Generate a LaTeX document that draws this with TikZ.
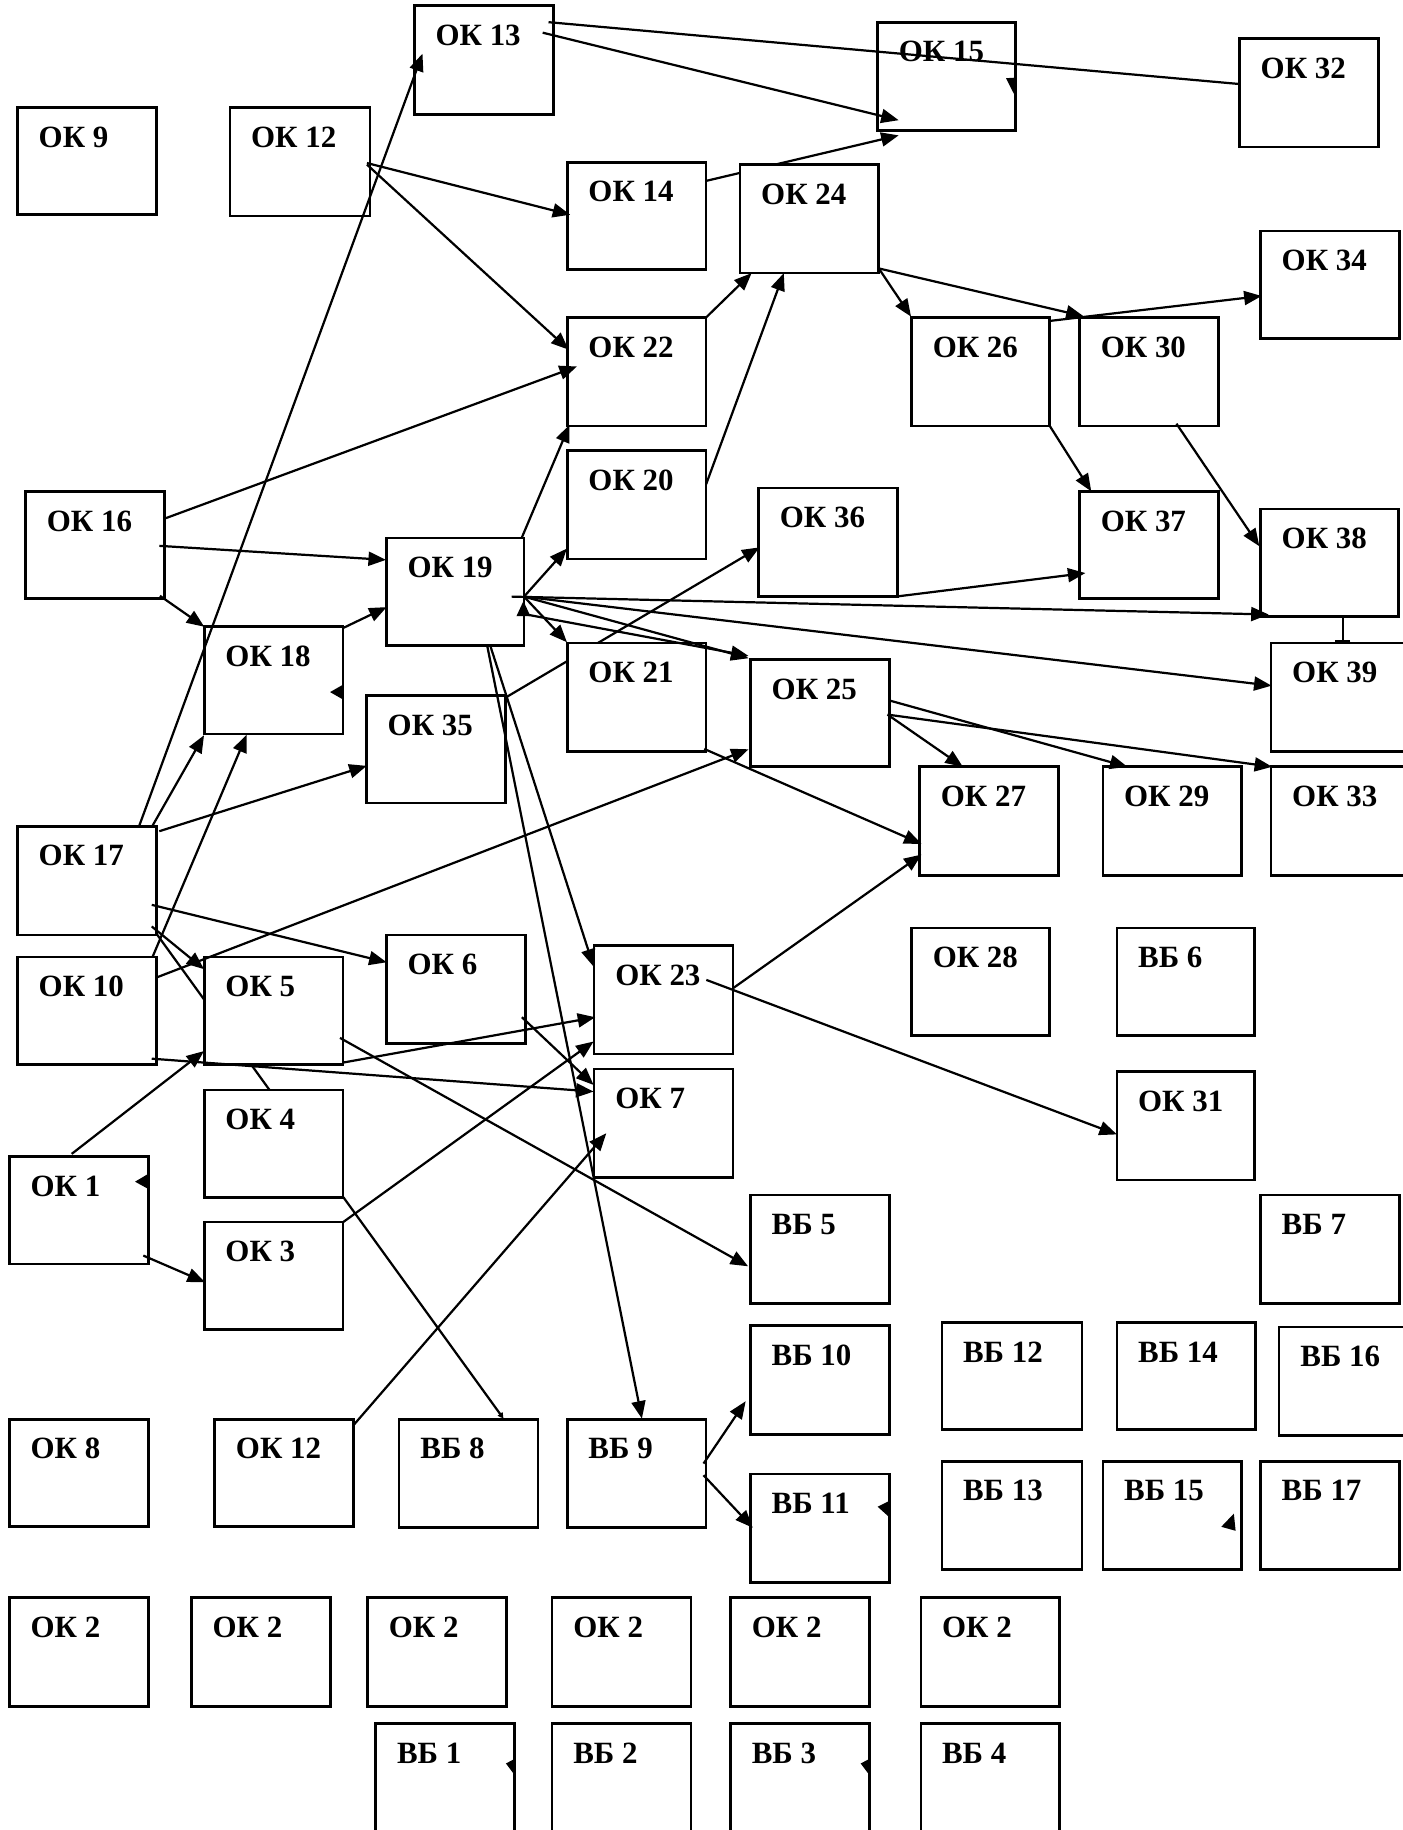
\documentclass[tikz,border=0pt]{standalone}
\usepackage{fontspec}
\usepackage{xfp}
\setmainfont{Liberation Serif}
\usetikzlibrary{arrows.meta}
% point given in picture coordinates, expressed relative to a named box
\newcommand\rel[3]{([shift={(\fpeval{#2-\csname bX#1\endcsname},\fpeval{#3-\csname bY#1\endcsname})}]#1.north west)}
\newcommand\bx[6]{%
  \expandafter\xdef\csname bX#1\endcsname{#2}%
  \expandafter\xdef\csname bY#1\endcsname{#3}%
  \node[box, minimum width={(#4-#2)*1pt}, minimum height={(#5-#3)*1pt}] (#1) at (#2,#3) {};%
  \node[lbl] (#1-l) at ([shift={(18,34)}]#1.north west) {#6};}
\newcommand\conn[7][arr]{%
  \edef\tmpconn{\noexpand\draw[cn,#1] \rel{#2}{#3}{#4} -- \rel{#5}{#6}{#7};}\tmpconn}
\newcommand\stray[7]{%
  \edef\tmpstray{\noexpand\fill \rel{#1}{#2}{#3} -- \rel{#1}{#4}{#5} -- \rel{#1}{#6}{#7} -- cycle;}\tmpstray}
\begin{document}
\begin{tikzpicture}[x=1pt,y=-1pt,
  box/.style={draw, fill=white, line width=2.3pt, rectangle, anchor=north west, inner sep=0pt, outer sep=0pt},
  lbl/.style={anchor=base west, inner sep=0pt, font=\bfseries\fontsize{26.5}{30}\selectfont},
  cn/.style={line width=1.9pt},
  arr/.style={-{Triangle[length=15pt,width=12pt]}},
  bartip/.style={-{Bar[width=13pt]}}]
\useasboundingbox (0,0) rectangle (1202,1568);
\clip (0,0) rectangle (1202,1568);
\fill[white] (0,0) rectangle (1202,1568);
% boxes
\bx{ok13}{355}{5}{474}{98}{ОК 13}
\bx{ok15}{752}{19}{870}{112}{ОК 15}
\bx{ok32}{1062}{33}{1181}{126}{ОК 32}
\bx{ok9}{15}{92}{134}{184}{ОК 9}
\bx{ok12}{197}{92}{317}{185}{ОК 12}
\bx{ok14}{486}{139}{605}{231}{ОК 14}
\bx{ok34}{1080}{198}{1199}{290}{ОК 34}
\bx{ok22}{486}{272}{605}{365}{ОК 22}
\bx{ok26}{781}{272}{899}{365}{ОК 26}
\bx{ok30}{925}{272}{1044}{365}{ОК 30}
\bx{ok20}{486}{386}{605}{479}{ОК 20}
\bx{ok36}{650}{418}{769}{511}{ОК 36}
\bx{ok37}{925}{421}{1044}{513}{ОК 37}
\bx{ok38}{1080}{436}{1198}{528}{ОК 38}
\bx{ok16}{22}{421}{141}{513}{ОК 16}
\bx{ok19}{331}{461}{449}{553}{ОК 19}
\bx{ok18}{175}{537}{294}{629}{ОК 18}
\bx{ok39}{1089}{551}{1215}{644}{ОК 39}
\bx{ok25}{643}{565}{762}{657}{ОК 25}
\bx{ok35}{314}{596}{433}{688}{ОК 35}
\bx{ok27}{788}{657}{907}{750}{ОК 27}
\bx{ok29}{945}{657}{1064}{750}{ОК 29}
\bx{ok33}{1089}{657}{1215}{750}{ОК 33}
\bx{ok17}{15}{708}{134}{801}{ОК 17}
\bx{ok28}{781}{795}{899}{887}{ОК 28}
\bx{vb6}{957}{795}{1075}{887}{ВБ 6}
\bx{ok10}{15}{820}{134}{912}{ОК 10}
\bx{ok6}{331}{801}{450}{894}{ОК 6}
\bx{ok23}{509}{810}{628}{903}{ОК 23}
\bx{ok7}{509}{916}{628}{1009}{ОК 7}
\bx{ok31}{957}{918}{1075}{1011}{ОК 31}
\bx{ok4}{175}{934}{294}{1026}{ОК 4}
\bx{ok1}{8}{991}{127}{1083}{ОК 1}
\bx{vb5}{643}{1024}{762}{1117}{ВБ 5}
\bx{vb7}{1080}{1024}{1199}{1117}{ВБ 7}
\bx{ok3}{175}{1047}{294}{1139}{ОК 3}
\bx{vb10}{643}{1136}{762}{1229}{ВБ 10}
\bx{vb12}{807}{1133}{927}{1225}{ВБ 12}
\bx{vb14}{957}{1133}{1076}{1225}{ВБ 14}
\bx{vb16}{1096}{1137}{1215}{1230}{ВБ 16}
\bx{ok8}{8}{1216}{127}{1308}{ОК 8}
\bx{ok12b}{184}{1216}{303}{1308}{ОК 12}
\bx{vb8}{342}{1216}{461}{1309}{ВБ 8}
\bx{vb9}{486}{1216}{605}{1309}{ВБ 9}
\bx{vb11}{643}{1263}{762}{1356}{ВБ 11}
\bx{vb13}{807}{1252}{927}{1345}{ВБ 13}
\bx{vb15}{945}{1252}{1064}{1345}{ВБ 15}
\bx{vb17}{1080}{1252}{1199}{1345}{ВБ 17}
\bx{ok2a}{8}{1369}{127}{1462}{ОК 2}
\bx{ok2b}{164}{1369}{283}{1462}{ОК 2}
\bx{ok2c}{315}{1369}{434}{1462}{ОК 2}
\bx{ok2d}{473}{1369}{592}{1462}{ОК 2}
\bx{ok2e}{626}{1369}{745}{1462}{ОК 2}
\bx{ok2f}{789}{1369}{908}{1462}{ОК 2}
\bx{vb1}{322}{1477}{441}{1590}{ВБ 1}
\bx{vb2}{473}{1477}{592}{1590}{ВБ 2}
\bx{vb3}{626}{1477}{745}{1590}{ВБ 3}
\bx{vb4}{789}{1477}{908}{1590}{ВБ 4}
% connectors partly hidden behind boxes
\conn{ok14}{605}{155}{ok15}{770}{116}
\conn{ok35}{434.4}{597}{ok36}{650.8}{469}
\conn[]{ok17}{134.2}{800.2}{ok4}{231}{934}
\bx{ok24}{634}{141}{753}{234}{ОК 24}
\bx{ok21}{486}{551}{605}{644}{ОК 21}
\bx{ok5}{175}{820}{294}{912}{ОК 5}
% connectors
\conn[]{ok13}{470}{19}{ok32}{1062}{72}
\conn{ok13}{465}{28}{ok15}{770}{103}
\conn{ok12}{314.4}{139.7}{ok14}{488.6}{184}
\conn{ok12}{314.4}{141}{ok22}{487.2}{299.6}
\conn{ok22}{605}{272}{ok24}{644}{234}
\conn{ok20}{605}{415}{ok24}{671.6}{234}
\conn{ok24}{753}{230}{ok26}{780.6}{271.3}
\conn{ok24}{753}{230}{ok30}{928.5}{271}
\conn{ok26}{899.3}{275}{ok34}{1081}{253.6}
\conn{ok26}{899.3}{364.7}{ok37}{935}{421}
\conn{ok30}{1008}{363}{ok38}{1079}{468}
\conn{ok36}{769}{511}{ok37}{930}{491}
\conn{ok16}{142}{444}{ok22}{494.3}{314}
\conn{ok16}{136.5}{467.7}{ok19}{330.7}{479.7}
\conn{ok16}{137}{510.5}{ok18}{175}{537}
\conn{ok19}{447.2}{460.4}{ok22}{488}{364}
\conn{ok19}{449}{511.2}{ok20}{485.8}{470}
\conn{ok19}{449}{511.2}{ok21}{485.8}{550.3}
\conn{ok19}{449}{511.2}{ok25}{641.4}{564}
\conn{ok19}{449.8}{526.3}{ok25}{641.4}{562}
\conn{ok19}{438.4}{511.2}{ok38}{1087}{526.5}
\conn{ok19}{449}{511.2}{ok39}{1089.5}{587.5}
\conn{ok19}{417.2}{552}{vb9}{550}{1215.5}
\conn{ok19}{420}{553}{ok23}{508.6}{828.2}
\conn{ok18}{294.2}{538}{ok19}{331.3}{520.2}
\conn{ok17}{119.4}{707.3}{ok13}{362}{46}
\conn{ok17}{130.8}{707.3}{ok18}{174.8}{630}
\conn{ok17}{136.5}{712.2}{ok35}{314.2}{656.2}
\conn{ok17}{130}{775.3}{ok6}{331.3}{824.5}
\conn{ok17}{130}{793.8}{ok5}{174.8}{830.4}
\conn{ok10}{130.8}{819.7}{ok18}{211.3}{629.6}
\conn{ok10}{134.2}{837.5}{ok25}{641.4}{642}
\conn{ok10}{130}{907.1}{ok7}{508.6}{935.3}
\conn{ok5}{294.2}{910.4}{ok23}{510}{871.6}
\conn{ok5}{291.3}{889.3}{vb5}{641}{1085}
\conn{ok6}{447.2}{871.6}{ok7}{508.6}{929.6}
\conn{ok1}{61.4}{988.7}{ok5}{174.8}{900.6}
\conn{ok1}{122.8}{1075.8}{ok3}{175.6}{1098.6}
\conn{ok3}{294.2}{1047}{ok23}{508.6}{892.4}
\conn[-{Triangle[length=5pt,width=5pt]}]{ok4}{294.2}{1025.8}{vb8}{431.4}{1215.5}
\conn{ok12b}{303}{1221}{ok7}{519.5}{971}
\conn{ok23}{628}{846.8}{ok27}{789.6}{732.2}
\conn{ok23}{605.2}{839.6}{ok31}{957}{972}
\conn{ok21}{603.4}{641.7}{ok27}{789.6}{723.1}
\conn{ok25}{760.5}{612.3}{ok27}{825}{657}
\conn{ok25}{762.5}{600.3}{ok29}{966}{657}
\conn{ok25}{760.5}{612.3}{ok33}{1090}{657}
\conn[bartip]{ok38}{1150.6}{528}{ok39}{1150.6}{550.5}
\conn{vb9}{602.8}{1254}{vb10}{638.9}{1200.6}
\conn{vb9}{602.8}{1264}{vb11}{645}{1309}
% stray arrowheads
\stray{ok15}{862}{67}{870.4}{66.5}{868.8}{80.5}
\stray{ok18}{282.8}{593}{294.2}{586.5}{294.2}{599.5}
\stray{ok19}{448.5}{515}{442.5}{528}{454.5}{528}
\stray{ok1}{115.7}{1012.5}{127}{1005.8}{127}{1018.7}
\stray{vb11}{752}{1291}{762}{1286}{762}{1300}
\stray{vb15}{1057.2}{1296.9}{1046.4}{1308.2}{1058.7}{1311.6}
\stray{vb1}{433.5}{1511}{441}{1507}{441}{1521}
\stray{vb3}{737.5}{1511}{745}{1507}{745}{1521}
\end{tikzpicture}
\end{document}
